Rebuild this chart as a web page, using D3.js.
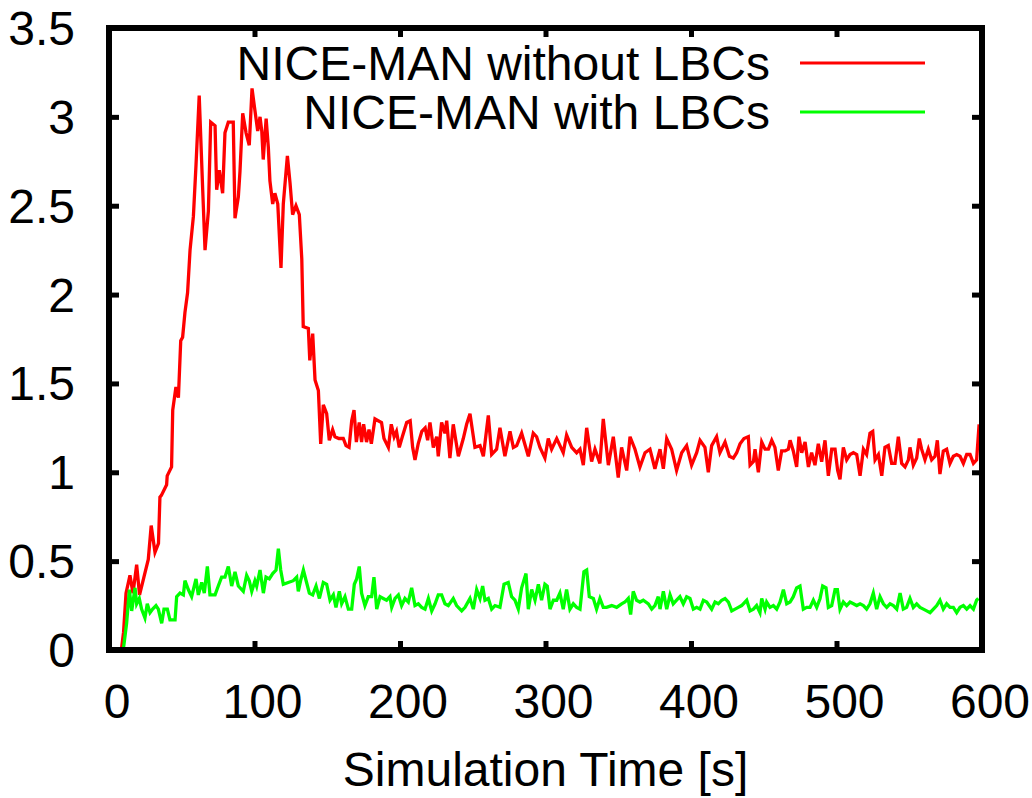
<!DOCTYPE html>
<html>
<head>
<meta charset="utf-8">
<script src="https://cdn.jsdelivr.net/npm/d3@7"></script>
<style>
  body { margin: 0; background: #fff; }
  text { font-family: "Liberation Sans", Arial, Helvetica, sans-serif; fill: #000; }
</style>
</head>
<body>
<div id="chart"></div>
<script>
// tick values and labels
const xTicks = [0, 100, 200, 300, 400, 500, 600];
const yTicks = [0, 0.5, 1, 1.5, 2, 2.5, 3, 3.5];
const yTickLabels = ["0", "0.5", "1", "1.5", "2", "2.5", "3", "3.5"];
const xTitle = "Simulation Time [s]";
const seriesNames = ["NICE-MAN without LBCs", "NICE-MAN with LBCs"];
const seriesColors = ["#ff0000", "#00ff00"];

// [time, value]
const redData = [[8.5,0],[10,0.10],[11.7,0.32],[14.4,0.42],[16.5,0.32],[19,0.48],[21,0.31],[24,0.41],[27,0.51],[29,0.70],
  [31.6,0.55],[34,0.60],[35,0.86],[36,0.87],[39.6,0.93],[40,0.98],[43,1.03],[43.8,1.35],[46,1.48],[47.7,1.42],
  [49.3,1.74],[50.6,1.76],[52.2,1.90],[54,2.01],[55.7,2.25],[58,2.44],[59.8,2.73],[62,3.12],[64.4,2.59],[66,2.25],
  [68.3,2.47],[69.9,2.97],[72.9,2.95],[74,2.59],[75.8,2.70],[78.1,2.57],[79.7,2.91],[82,2.97],[85.4,2.97],[86.6,2.43],
  [88.9,2.55],[90,2.69],[91.9,3.02],[94.2,2.91],[96.4,2.84],[98.3,3.16],[99.9,3.06],[102.2,2.92],[103.8,3.00],[105,2.92],
  [106,2.76],[108,2.99],[109.5,2.83],[110.6,2.64],[112.5,2.51],[114,2.57],[116,2.51],[118.2,2.15],[119.8,2.51],[122.6,2.78],
  [124.4,2.63],[126.2,2.45],[128.5,2.50],[130.8,2.45],[132.5,2.20],[133.5,1.82],[137,1.81],[138,1.63],[140,1.78],[141.6,1.52],
  [143.9,1.46],[145.5,1.16],[147.3,1.38],[149.6,1.33],[151.4,1.18],[153.7,1.24],[155.3,1.20],[158,1.19],[161,1.19],[162.9,1.15],
  [165,1.14],[166.8,1.29],[168.4,1.35],[170,1.17],[172,1.28],[173.6,1.17],[175,1.27],[177,1.17],[178.7,1.24],[180.3,1.16],
  [182.8,1.30],[185,1.29],[187.3,1.28],[189,1.19],[192,1.14],[194,1.27],[196,1.20],[197.6,1.23],[199.5,1.14],[201.6,1.20],
  [204.6,1.28],[207,1.29],[208.7,1.14],[210.3,1.07],[212.5,1.16],[215,1.23],[217.3,1.25],[219,1.18],[220.6,1.28],[222.9,1.14],
  [225.2,1.20],[226.3,1.09],[228.6,1.28],[230.9,1.22],[232.1,1.29],[234.3,1.08],[236.6,1.27],[240.1,1.09],[243.5,1.19],[245.8,1.27],
  [248.1,1.33],[251.5,1.14],[255,1.15],[257.3,1.09],[260.7,1.32],[263,1.10],[266.4,1.13],[268.7,1.25],[272.1,1.09],[275.6,1.23],
  [277.9,1.14],[280.2,1.15],[283.6,1.22],[288.2,1.09],[291.6,1.22],[293.9,1.20],[296.2,1.14],[299.6,1.08],[301.9,1.19],[304.2,1.13],
  [307.7,1.19],[312.2,1.11],[314.5,1.21],[318,1.14],[321.4,1.11],[323.7,1.13],[326,1.04],[328.3,1.25],[331.7,1.06],[334,1.13],
  [337.4,1.05],[339.7,1.30],[343.2,1.04],[346.6,1.20],[350,0.97],[352.3,1.14],[355.8,1.01],[358.1,1.20],[361.5,1.13],[364.9,1.03],
  [368.4,1.11],[371.8,1.13],[375.2,1.02],[378.7,1.13],[381,1.02],[383.3,1.19],[386.7,1.13],[390.1,1.01],[393.6,1.11],[397,1.15],
  [400.4,1.04],[403.9,1.11],[406.2,1.18],[409.6,1.14],[411.9,1.00],[414.2,1.15],[417.6,1.20],[419.9,1.11],[423.4,1.17],[426.4,1.09],
  [429.1,1.08],[431.4,1.11],[433.7,1.16],[436.4,1.19],[439.4,1.20],[440.6,1.04],[442.9,1.06],[444,1.13],[446.3,1.00],[448.6,1.17],
  [450.9,1.13],[453.2,1.13],[455.5,1.18],[457.7,1.14],[460,1.01],[462.3,1.12],[464.6,1.12],[466.9,1.13],[468.1,1.18],[470.3,1.12],
  [472.6,1.03],[474.2,1.20],[476.1,1.11],[478.4,1.17],[480.7,1.03],[482.9,1.11],[485.2,1.04],[487.5,1.16],[489.8,1.06],[492.1,1.18],
  [494.4,0.98],[496.7,1.13],[499,1.13],[500.8,1.01],[502.4,0.96],[504.7,1.14],[507,1.07],[509.3,1.10],[511.6,1.11],[513.9,1.10],
  [516.2,0.98],[518.5,1.13],[520.7,1.10],[523,1.22],[524.9,1.23],[526.5,1.07],[528.8,1.10],[531.1,0.98],[533.3,1.14],[535.6,1.15],
  [537.9,1.05],[540.2,1.05],[542.5,1.20],[544.8,1.05],[547.1,1.03],[549.4,1.07],[550.5,1.14],[552.8,1.04],[555.1,1.08],[556.9,1.19],
  [558.5,1.13],[560.8,1.07],[563.1,1.13],[565.4,1.07],[567.7,1.09],[569.3,1.18],[571.1,0.99],[573.4,1.12],[575.7,1.13],[578,1.05],
  [580.3,1.09],[582.6,1.10],[584.9,1.09],[587.2,1.05],[589.5,1.10],[591.8,1.10],[594.1,1.05],[596.3,1.07],[598,1.27]];

const greenData = [[9.8,0],[12.1,0.15],[14,0.34],[15.6,0.22],[17.9,0.35],[19,0.26],[20.8,0.29],[22.4,0.23],[24.7,0.18],[26.3,0.26],
  [28.2,0.21],[30,0.23],[32.3,0.25],[33.9,0.23],[36.2,0.15],[37.8,0.23],[40.1,0.23],[41.9,0.17],[45.4,0.17],[46.5,0.30],
  [48.8,0.32],[51.1,0.31],[52.2,0.39],[54.5,0.34],[56.8,0.30],[59.8,0.40],[61.4,0.31],[63.7,0.38],[65.5,0.32],[67.6,0.47],
  [69.4,0.31],[72.9,0.31],[75.1,0.36],[77.4,0.41],[79.7,0.41],[82,0.47],[84.3,0.36],[86.6,0.44],[88.9,0.36],[92.3,0.33],
  [94.6,0.42],[96.4,0.39],[98.1,0.33],[100.3,0.39],[101.5,0.36],[103.8,0.45],[106.1,0.32],[107.9,0.41],[110.2,0.40],[112.5,0.43],
  [114.8,0.45],[116.4,0.57],[118,0.45],[119.8,0.37],[123.2,0.38],[126.7,0.39],[129,0.41],[130.1,0.33],[131.7,0.39],[133.6,0.45],
  [135.8,0.38],[137.7,0.32],[140,0.31],[142.3,0.36],[144.6,0.29],[147.3,0.38],[149.6,0.37],[151.9,0.28],[154.2,0.31],[156,0.24],
  [158.3,0.33],[159.9,0.26],[162.2,0.30],[164.5,0.23],[166.8,0.23],[168.6,0.37],[170.2,0.40],[172,0.47],[173.6,0.32],[175.9,0.25],
  [178.2,0.30],[180.5,0.30],[182.1,0.41],[184,0.23],[186.3,0.30],[188.5,0.29],[190.8,0.28],[193.1,0.30],[194.3,0.24],[196.6,0.29],
  [198.9,0.31],[201.1,0.25],[203.4,0.29],[205.7,0.27],[208,0.35],[210.3,0.25],[212.6,0.26],[214.9,0.24],[217.2,0.23],[219.5,0.29],
  [221.8,0.22],[224.1,0.26],[226.3,0.31],[228.6,0.31],[230.9,0.26],[233.2,0.25],[236.6,0.29],[238.9,0.25],[242.4,0.22],[244.7,0.24],
  [248.1,0.29],[250.4,0.23],[252.7,0.34],[255,0.29],[256.8,0.36],[258.4,0.28],[260.7,0.29],[263,0.23],[265.3,0.25],[268.7,0.24],
  [271.5,0.37],[274.4,0.38],[276.7,0.30],[279,0.28],[281.3,0.23],[283.6,0.35],[286.6,0.43],[288.2,0.23],[290.5,0.34],[292.8,0.28],
  [295.1,0.37],[297.3,0.28],[299.6,0.37],[301.2,0.36],[303.1,0.23],[305.4,0.28],[307.7,0.28],[309.9,0.32],[312.2,0.23],[314.5,0.34],
  [316.8,0.23],[319.1,0.26],[321.4,0.24],[323.7,0.23],[326.4,0.44],[328.3,0.45],[330.1,0.30],[332.9,0.29],[335.1,0.23],[337.4,0.29],
  [339.7,0.24],[342,0.24],[345.5,0.25],[348.9,0.24],[352.3,0.26],[354.6,0.27],[356.9,0.29],[358.5,0.20],[360.3,0.33],[362.6,0.28],
  [364.9,0.27],[367.2,0.28],[370.7,0.26],[373,0.23],[375.2,0.25],[377.5,0.30],[378.7,0.23],[381,0.33],[383.3,0.23],[385.6,0.31],
  [387.8,0.26],[390.1,0.28],[392.4,0.30],[394.7,0.26],[397,0.30],[399.3,0.29],[401.6,0.23],[403.9,0.24],[406.2,0.23],[408.5,0.28],
  [410.8,0.27],[414.2,0.23],[416.5,0.27],[418.8,0.26],[421.1,0.28],[423.4,0.29],[425.7,0.27],[428,0.22],[430.3,0.23],[432.5,0.24],
  [434.8,0.25],[438.3,0.28],[440.6,0.22],[442.9,0.23],[445.1,0.25],[447.4,0.21],[448.6,0.29],[450.9,0.23],[452,0.27],[454.3,0.24],
  [456.6,0.25],[458.9,0.23],[461.2,0.27],[463.5,0.34],[465.8,0.26],[468.1,0.27],[470.3,0.30],[472.6,0.35],[474.9,0.36],[477.2,0.23],
  [479.5,0.24],[481.8,0.24],[484.1,0.28],[486.4,0.24],[488.7,0.29],[490.5,0.36],[492.8,0.35],[494.4,0.24],[496.7,0.25],[499,0.34],
  [500.6,0.34],[502.4,0.23],[504.7,0.27],[507,0.25],[509.3,0.27],[511.6,0.26],[513.9,0.25],[516.2,0.26],[518.5,0.25],[520.7,0.23],
  [523,0.26],[525.3,0.32],[527.6,0.23],[529.9,0.30],[532.2,0.26],[534.5,0.24],[536.8,0.26],[539.1,0.25],[541.4,0.23],[543.7,0.32],
  [545.9,0.23],[548.2,0.24],[550.5,0.29],[552.8,0.24],[555.1,0.26],[557.4,0.24],[559.7,0.23],[562,0.22],[564.3,0.21],[566.6,0.23],
  [568.9,0.25],[571.1,0.28],[573.4,0.23],[575.7,0.26],[578,0.24],[580.3,0.24],[582.6,0.21],[584.9,0.24],[587.2,0.25],[589.5,0.23],
  [591.8,0.25],[594.1,0.23],[596.3,0.28],[597.5,0.29]];

// set the dimensions and margins of the graph
const margin = { top: 28, right: 50, bottom: 148, left: 109 },
    width = 1032 - margin.left - margin.right,
    height = 798 - margin.top - margin.bottom;

const svg = d3.select("#chart")
    .append("svg")
    .attr("width", 1032)
    .attr("height", 798)
    .append("g")
    .attr("transform", `translate(${margin.left},${margin.top})`);

const x = d3.scaleLinear().domain([0, 600]).range([0, width]);
const y = d3.scaleLinear().domain([0, 3.5]).range([height, 0]);

svg.append("clipPath").attr("id", "plotclip")
    .append("rect").attr("width", width).attr("height", height);

// lines
const line = d3.line().x(d => x(d[0])).y(d => y(d[1]));
[redData, greenData].forEach((data, i) => {
    svg.append("path")
        .datum(data)
        .attr("clip-path", "url(#plotclip)")
        .attr("fill", "none")
        .attr("stroke", seriesColors[i])
        .attr("stroke-width", 3.3)
        .attr("stroke-linejoin", "miter")
        .attr("d", line);
});

// inward ticks on all four sides
function styleTicks(g) {
    g.select(".domain").remove();
    g.selectAll(".tick line").attr("stroke", "#000").attr("stroke-width", 5);
    g.selectAll(".tick text").remove();
}
svg.append("g").attr("transform", `translate(0,${height})`)
    .call(d3.axisBottom(x).tickValues(xTicks).tickSize(-9)).call(styleTicks);
svg.append("g")
    .call(d3.axisTop(x).tickValues(xTicks).tickSize(-9)).call(styleTicks);
svg.append("g")
    .call(d3.axisLeft(y).tickValues(yTicks).tickSize(-10)).call(styleTicks);
svg.append("g").attr("transform", `translate(${width},0)`)
    .call(d3.axisRight(y).tickValues(yTicks).tickSize(-10)).call(styleTicks);

// border
svg.append("rect")
    .attr("width", width).attr("height", height)
    .attr("fill", "none").attr("stroke", "#000").attr("stroke-width", 6);

// tick labels
svg.selectAll(".xlab").data(xTicks).enter().append("text")
    .attr("class", "xlab")
    .attr("x", d => x(d) + 8)
    .attr("y", height + 68)
    .attr("text-anchor", "middle")
    .style("font-size", "48px")
    .text(d => d);

svg.selectAll(".ylab").data(yTicks).enter().append("text")
    .attr("class", "ylab")
    .attr("x", -34)
    .attr("y", d => y(d) + 17)
    .attr("text-anchor", "end")
    .style("font-size", "48px")
    .text((d, i) => yTickLabels[i]);

// x title
svg.append("text")
    .attr("x", width / 2)
    .attr("y", height + 136)
    .attr("text-anchor", "middle")
    .style("font-size", "48px")
    .text(xTitle);

// legend
seriesNames.forEach((name, i) => {
    const ly = 35 + i * 49;
    svg.append("text")
        .attr("x", 661)
        .attr("y", ly + 17)
        .attr("text-anchor", "end")
        .style("font-size", "48px")
        .text(name);
    svg.append("line")
        .attr("x1", 691).attr("x2", 816)
        .attr("y1", ly).attr("y2", ly)
        .attr("stroke", seriesColors[i])
        .attr("stroke-width", 3);
});
</script>
</body>
</html>
